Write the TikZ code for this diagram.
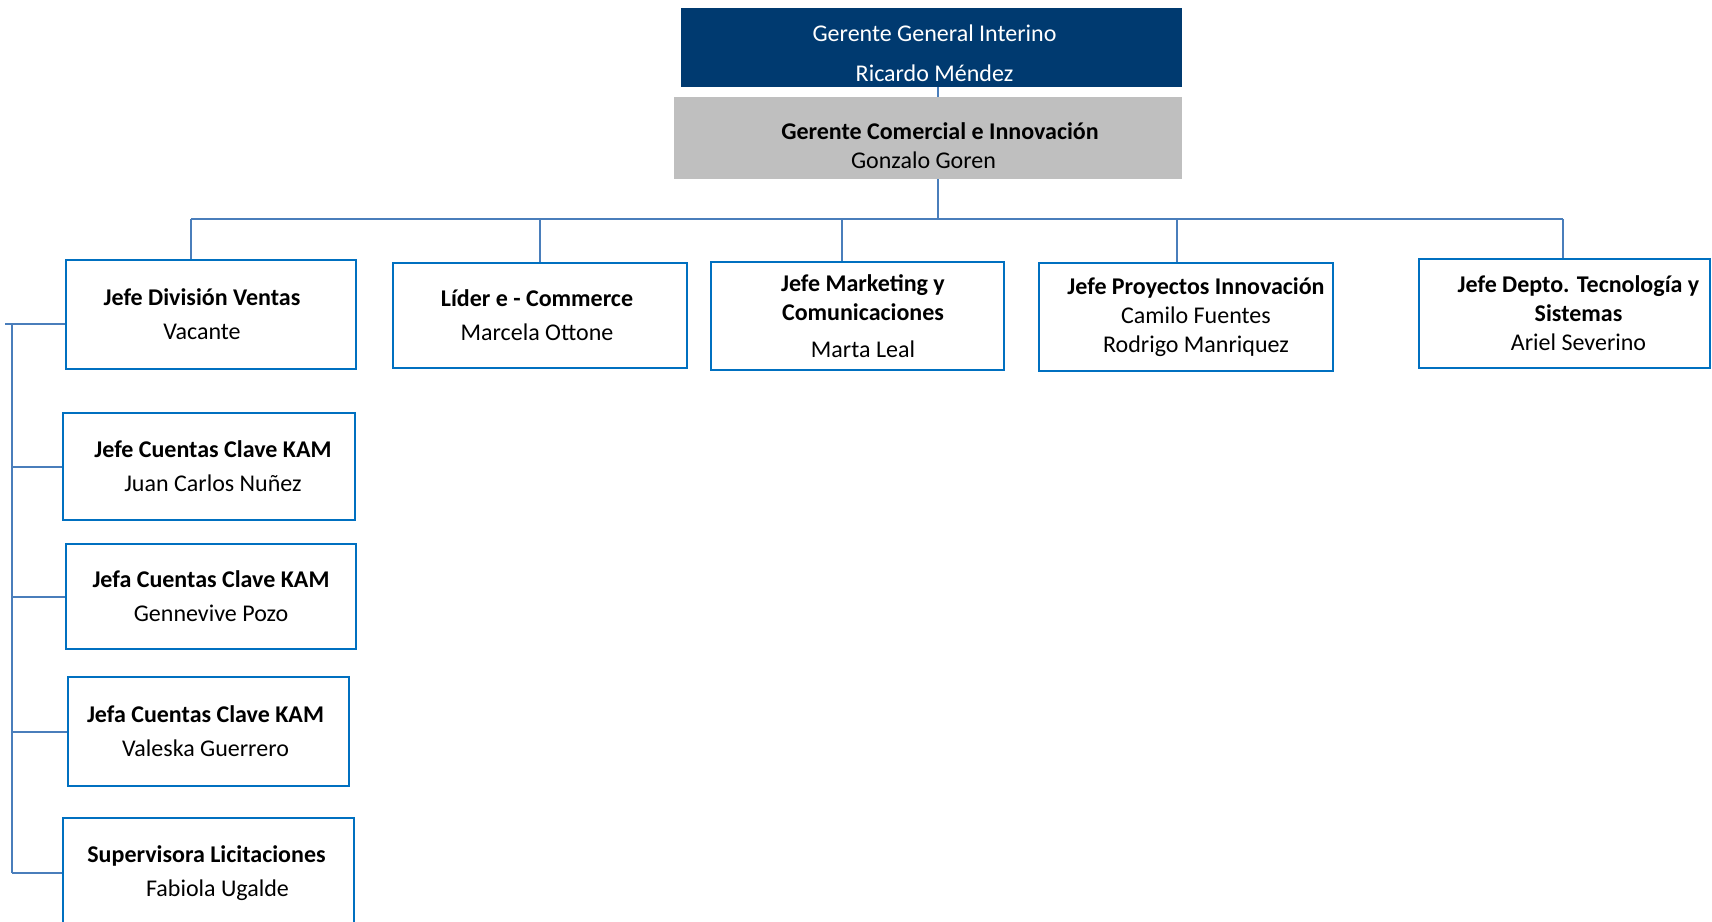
\documentclass[tikz,border=0pt]{standalone}
\usepackage{fontspec}
\setmainfont{Carlito}
\usepackage{xcolor}
\usepackage{tikz}
\usetikzlibrary{positioning}

\definecolor{navy}{RGB}{0,58,112}
\definecolor{boxgray}{RGB}{191,191,191}
\definecolor{boxblue}{RGB}{0,112,192}
\definecolor{lineblue}{RGB}{74,126,187}

\begin{document}
\begin{tikzpicture}[x=0.5pt, y=-0.5pt, font=\fontsize{12}{14.5}\selectfont]
\tikzstyle{head} = [rectangle, fill=navy, text=white, align=center, inner sep=0pt]
\tikzstyle{gray} = [rectangle, fill=boxgray, align=center, inner sep=0pt]
\tikzstyle{block} = [rectangle, draw=boxblue, line width=1pt, fill=white,
    align=center, inner sep=0pt]
\tikzstyle{line} = [draw=lineblue, line width=1pt]

\useasboundingbox (0,0) rectangle (1712,921);

% Nodes
\node [head, minimum width=250.5pt, minimum height=39.5pt] (gerente) at (931.5,47.5)
    {\rule{0pt}{14.5pt}\hspace*{3pt}Gerente General Interino\\[5.5pt]\hspace*{3pt}Ricardo Méndez};
\node [gray, minimum width=254pt, minimum height=41pt] (comercial) at (928,138)
    {\rule{0pt}{16.5pt}\hspace*{12pt}\textbf{Gerente Comercial e Innovación}\\Gonzalo Goren\hspace*{4.5pt}};

\node [block, minimum width=145pt, minimum height=54.5pt] (ventas) at (211,314.5)
    {\textbf{Jefe División Ventas}\hspace*{9pt}\\[2.5pt]Vacante\hspace*{9pt}};
\node [block, minimum width=147pt, minimum height=52.5pt] (ecommerce) at (540,315.5)
    {\textbf{Líder e - Commerce}\hspace*{3pt}\\[2.5pt]Marcela Ottone\hspace*{3pt}};
\node [block, minimum width=146.5pt, minimum height=54pt] (marketing) at (857.5,316)
    {\hspace*{5.5pt}\textbf{Jefe Marketing y}\\\hspace*{5.5pt}\textbf{Comunicaciones}\\[4pt]\hspace*{5.5pt}Marta Leal};
\node [block, minimum width=147pt, minimum height=54pt] (proyectos) at (1186,317)
    {\hspace*{10pt}\textbf{Jefe Proyectos Innovación}\\\hspace*{10pt}Camilo Fuentes\\\hspace*{10pt}Rodrigo Manriquez};
\node [block, minimum width=145.5pt, minimum height=54.5pt] (tecnologia) at (1564.5,313.5)
    {\hspace*{14pt}\textbf{Jefe Depto. Tecnología y}\\\hspace*{14pt}\textbf{Sistemas}\\\hspace*{14pt}Ariel Severino};

\node [block, minimum width=146pt, minimum height=53.5pt] (kamjuan) at (209,466.5)
    {\hspace*{4pt}\textbf{Jefe Cuentas Clave KAM}\\[2.5pt]\hspace*{4pt}Juan Carlos Nuñez};
\node [block, minimum width=145pt, minimum height=52.5pt] (kamgennevive) at (211,596.5)
    {\textbf{Jefa Cuentas Clave KAM}\\[2.5pt]Gennevive Pozo};
\node [block, minimum width=140.5pt, minimum height=54.5pt] (kamvaleska) at (208.5,731.5)
    {\textbf{Jefa Cuentas Clave KAM}\hspace*{3pt}\\[2.5pt]Valeska Guerrero\hspace*{3pt}};
\node [block, minimum width=145.5pt, minimum height=55pt] (licitaciones) at (208.5,873)
    {\textbf{Supervisora Licitaciones}\hspace*{2pt}\\[2.5pt]\hspace*{9pt}Fabiola Ugalde};

% Lines
\draw [line] ([xshift=3.25pt]gerente.south) -- ([xshift=3.25pt]gerente.south |- comercial.north);
\coordinate (bar) at (938,219);
\draw [line] (comercial.south -| bar) -- (bar);
\draw [line] (191,219) -- (1563,219);

\coordinate (s1) at (191,219);
\coordinate (s2) at (540,219);
\coordinate (s3) at (842,219);
\coordinate (s4) at (1177,219);
\coordinate (s5) at (1563,219);
\draw [line] (s1) -- (s1 |- ventas.north);
\draw [line] (s2) -- (s2 |- ecommerce.north);
\draw [line] (s3) -- (s3 |- marketing.north);
\draw [line] (s4) -- (s4 |- proyectos.north);
\draw [line] (s5) -- (s5 |- tecnologia.north);

\coordinate (spine) at (12,324);
\draw [line] (spine) -- (spine |- licitaciones.west);
\draw [line] ([xshift=-3.5pt]spine) -- (ventas.west |- spine);
\draw [line] (spine |- kamjuan.west) -- (kamjuan.west);
\draw [line] (spine |- kamgennevive.west) -- (kamgennevive.west);
\draw [line] (spine |- kamvaleska.west) -- (kamvaleska.west);
\draw [line] (spine |- licitaciones.west) -- (licitaciones.west);
\end{tikzpicture}
\end{document}
